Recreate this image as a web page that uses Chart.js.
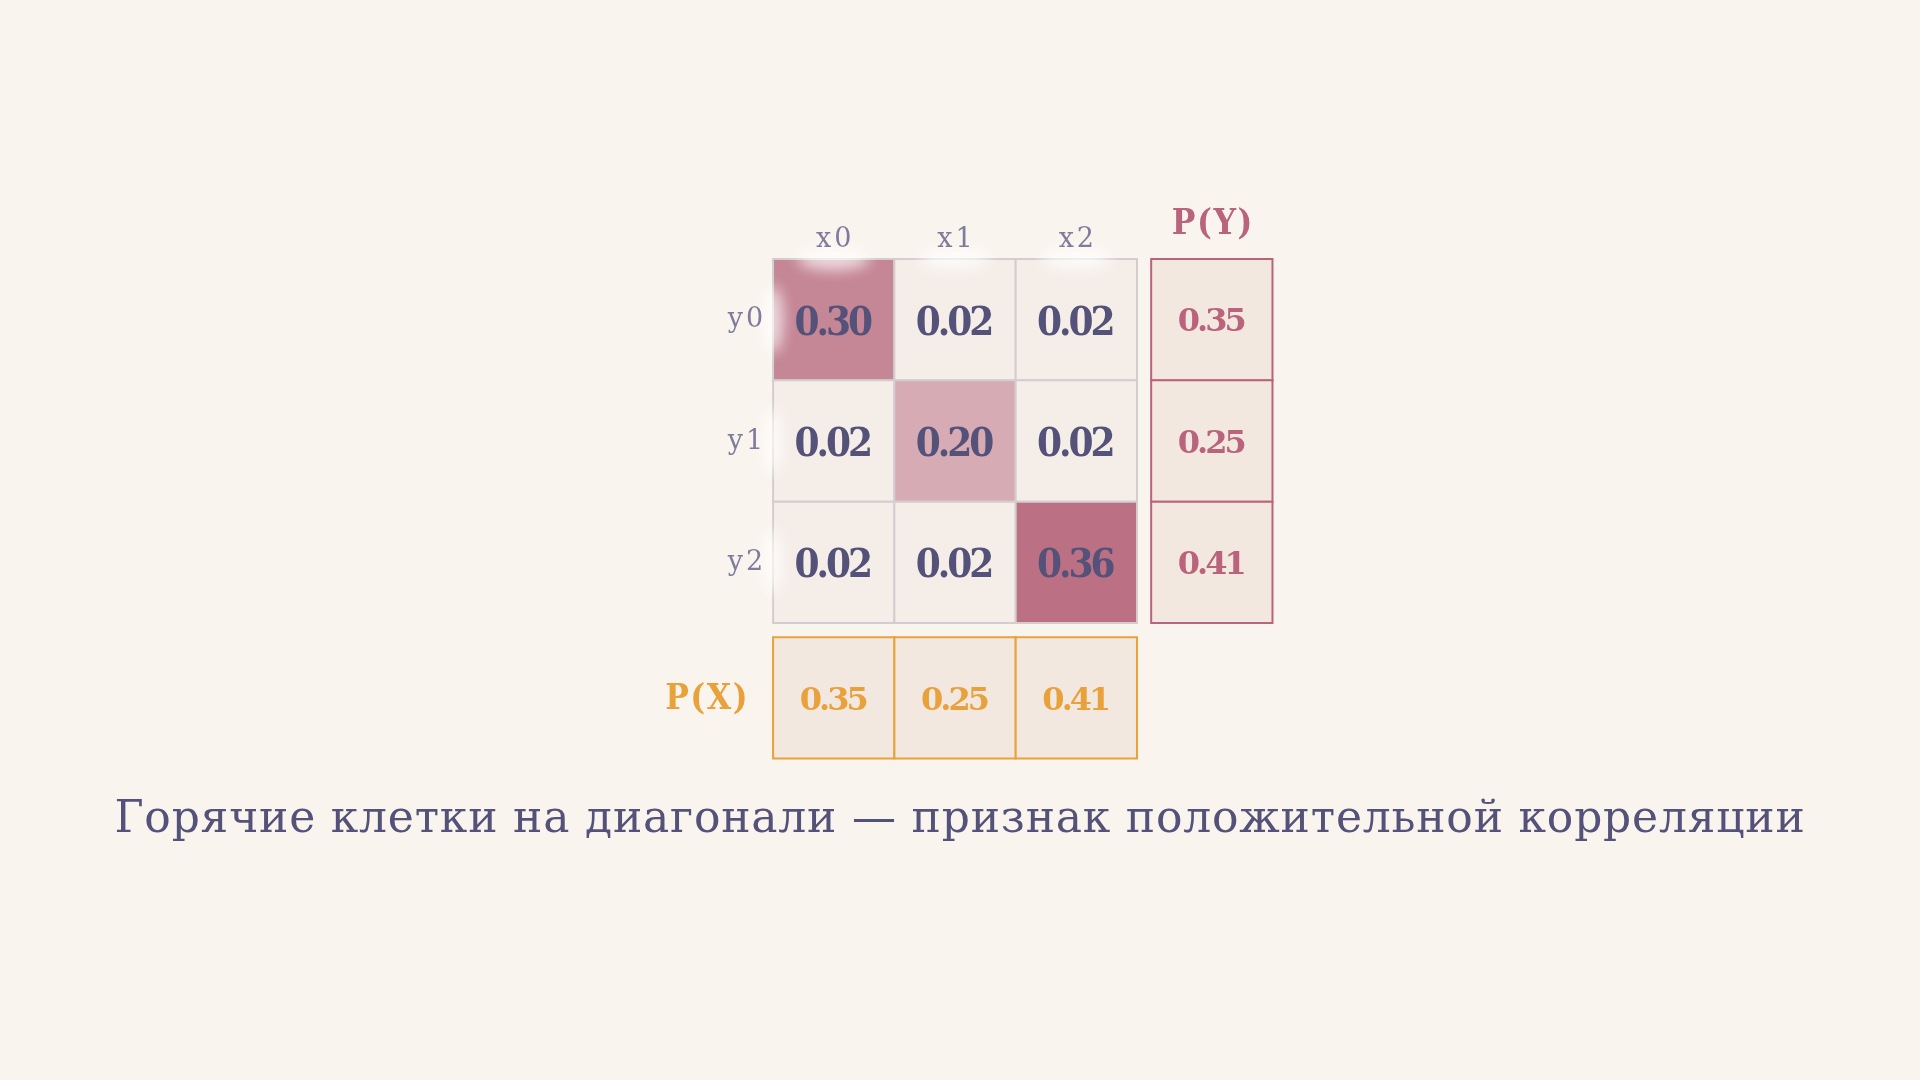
<!DOCTYPE html>
<html>
<head>
<meta charset="utf-8">
<script src="https://cdn.jsdelivr.net/npm/chart.js@4.4.1/dist/chart.umd.min.js"></script>
<style>
  html, body { margin: 0; padding: 0; background: #FAF4EE; }
  #wrap { width: 1920px; height: 1080px; position: relative; }
</style>
</head>
<body>
<div id="wrap"><canvas id="c"></canvas></div>
<script>
// ---------- data ----------
const xLabels = ['x0', 'x1', 'x2'];
const yLabels = ['y0', 'y1', 'y2'];
// joint[row y][col x]
const jointRow0 = [0.30, 0.02, 0.02];
const jointRow1 = [0.02, 0.20, 0.02];
const jointRow2 = [0.02, 0.02, 0.36];
const joint = [jointRow0, jointRow1, jointRow2];
const pX = [0.35, 0.25, 0.41];
const pY = [0.35, 0.25, 0.41];
const pXLabel = 'P(X)';
const pYLabel = 'P(Y)';
const caption = 'Горячие клетки на диагонали — признак положительной корреляции';

// ---------- style / layout ----------
const BG = '#FAF4EE';
const INK = '#55527A';
const LABEL = '#7F7B9D';
const PINK = '#B9647C';
const ORANGE = '#E9A13B';
const MARG_FILL = '#F2E8DF';
const GRID_BORDER = '#D3CDCF';
const MARGIN_POS = 3.117; // position of marginal row/column (with gap)
const SERIF = '"DejaVu Serif", "Liberation Serif", serif';
const SERIF_C = '"DejaVu Serif Condensed", "DejaVu Serif", serif';

function heat(v) {
  const lo = [245, 237, 232], hi = [187, 112, 132];
  const t = Math.max(0, Math.min(1, (v - 0.02) / 0.34));
  const c = lo.map((a, i) => Math.round(a + (hi[i] - a) * t));
  return `rgb(${c[0]},${c[1]},${c[2]})`;
}

const jointData = [];
joint.forEach((row, yi) => row.forEach((v, xi) => jointData.push({ x: xi, y: yi, v })));
const pYData = pY.map((v, yi) => ({ x: MARGIN_POS, y: yi, v }));
const pXData = pX.map((v, xi) => ({ x: xi, y: MARGIN_POS, v }));

function cellRadius(ctx) {
  const s = ctx.chart.scales.x;
  if (!s) return 0;
  const w = Math.abs(s.getPixelForValue(1) - s.getPixelForValue(0));
  return w / 2 / Math.SQRT1_2;
}

const textPlugin = {
  id: 'texts',
  beforeDraw(chart) {
    const c = chart.ctx;
    c.save();
    c.fillStyle = BG;
    c.fillRect(0, 0, chart.width, chart.height);
    c.restore();
  },
  afterDatasetsDraw(chart) {
    const c = chart.ctx;
    const sx = chart.scales.x, sy = chart.scales.y;
    const cell = Math.abs(sx.getPixelForValue(1) - sx.getPixelForValue(0));
    const gridLeft = sx.getPixelForValue(-0.5);
    const gridTop = sy.getPixelForValue(-0.5);
    c.save();

    // soft white halos where labels meet the grid
    c.filter = 'blur(7px)';
    c.fillStyle = 'rgba(255,255,255,0.7)';
    xLabels.forEach((l, i) => {
      c.beginPath();
      c.ellipse(sx.getPixelForValue(i), gridTop, cell * 0.3, 11, 0, 0, Math.PI * 2);
      c.fill();
    });
    yLabels.forEach((l, i) => {
      c.beginPath();
      c.ellipse(gridLeft, sy.getPixelForValue(i), 10, cell * 0.28, 0, 0, Math.PI * 2);
      c.fill();
    });
    c.filter = 'none';

    // joint values
    c.textAlign = 'center';
    c.textBaseline = 'alphabetic';
    c.fillStyle = INK;
    c.fontStretch = 'condensed';
    c.font = `bold 40px ${SERIF_C}`;
    c.letterSpacing = '-3px';
    jointData.forEach(d => {
      c.fillText(d.v.toFixed(2), sx.getPixelForValue(d.x) - 1.5, sy.getPixelForValue(d.y) + 14.8);
    });

    // marginal values
    c.fontStretch = 'normal';
    c.font = `bold 32px ${SERIF}`;
    c.letterSpacing = '-3px';
    c.fillStyle = PINK;
    pYData.forEach(d => {
      c.fillText(d.v.toFixed(2), sx.getPixelForValue(d.x) - 1, sy.getPixelForValue(d.y) + 11.7);
    });
    c.fillStyle = ORANGE;
    pXData.forEach(d => {
      c.fillText(d.v.toFixed(2), sx.getPixelForValue(d.x) - 1, sy.getPixelForValue(d.y) + 11.7);
    });

    // axis labels
    c.font = `27px ${SERIF}`;
    c.letterSpacing = '3px';
    c.fillStyle = LABEL;
    c.textAlign = 'center';
    xLabels.forEach((l, i) => {
      c.fillText(l, sx.getPixelForValue(i) + 1.5, gridTop - 12);
    });
    c.textAlign = 'right';
    yLabels.forEach((l, i) => {
      c.fillText(l, gridLeft - 7, sy.getPixelForValue(i) + 7.5);
    });

    // marginal titles
    c.fontStretch = 'condensed';
    c.font = `bold 35px ${SERIF_C}`;
    c.letterSpacing = '1.5px';
    c.fillStyle = PINK;
    c.textAlign = 'center';
    c.fillText(pYLabel, sx.getPixelForValue(MARGIN_POS) + 1, gridTop - 25);
    c.fillStyle = ORANGE;
    c.textAlign = 'right';
    c.fillText(pXLabel, gridLeft - 24, sy.getPixelForValue(MARGIN_POS) + 11);

    // caption
    c.fontStretch = 'normal';
    c.font = `44px ${SERIF}`;
    c.letterSpacing = '0.8px';
    c.fillStyle = INK;
    c.textAlign = 'center';
    c.fillText(caption, chart.width / 2, sy.getPixelForValue(MARGIN_POS + 0.5) + 74);
    c.restore();
  }
};

const chart = new Chart(document.getElementById('c'), {
  type: 'scatter',
  data: {
    datasets: [
      {
        label: 'joint',
        data: jointData,
        pointStyle: 'rect',
        radius: cellRadius,
        backgroundColor: ctx => heat(ctx.raw ? ctx.raw.v : 0),
        borderColor: GRID_BORDER,
        borderWidth: 2
      },
      {
        label: 'P(Y)',
        data: pYData,
        pointStyle: 'rect',
        radius: cellRadius,
        backgroundColor: MARG_FILL,
        borderColor: PINK,
        borderWidth: 2
      },
      {
        label: 'P(X)',
        data: pXData,
        pointStyle: 'rect',
        radius: cellRadius,
        backgroundColor: MARG_FILL,
        borderColor: ORANGE,
        borderWidth: 2
      }
    ]
  },
  options: {
    responsive: true,
    maintainAspectRatio: false,
    animation: false,
    events: [],
    layout: { padding: 0 },
    plugins: { legend: { display: false }, tooltip: { enabled: false } },
    scales: {
      x: { type: 'linear', display: false, min: -6.873, max: 8.955 },
      y: { type: 'linear', display: false, reverse: true, min: -2.636, max: 6.268 }
    }
  },
  plugins: [textPlugin]
});
</script>
</body>
</html>
